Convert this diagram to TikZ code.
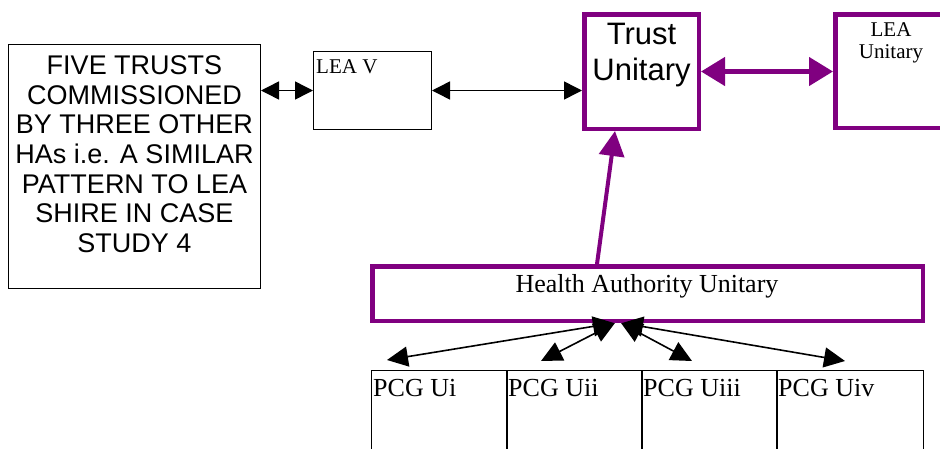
\documentclass[tikz,border=0pt]{standalone}
\usepackage{fontspec}
\setmainfont{Liberation Serif}
\newfontfamily\arialf{Liberation Sans}
\usetikzlibrary{arrows.meta,calc}
\definecolor{hpurple}{RGB}{128,0,128}
\begin{document}
\begin{tikzpicture}[x=1pt,y=-1pt,
  bbox/.style={draw=black, line width=1.4pt, inner sep=0pt, anchor=north west},
  pbox/.style={draw=hpurple, line width=4.5pt, inner sep=0pt, anchor=north west},
  txt/.style={inner sep=0pt},
  blk/.style={draw=black, line width=1.5pt, {Triangle[length=18pt,width=18pt]}-{Triangle[length=18pt,width=18pt]}},
  blkp/.style={draw=black, line width=1.6pt, {Triangle[length=21pt,width=20pt]}-{Triangle[length=21pt,width=20pt]}},
  pur/.style={draw=hpurple, line width=4.5pt, {Triangle[length=24pt,width=28pt]}-{Triangle[length=24pt,width=28pt]}},
  purone/.style={draw=hpurple, line width=4pt, -{Triangle[length=25pt,width=25pt]}}
]
\clip (0,0) rectangle (940,448);
% boxes
\node[bbox, minimum width=251.6pt, minimum height=243.6pt] (five) at (8,44) {};
\node[bbox, minimum width=117.6pt, minimum height=77.6pt] (lea5) at (313,51) {};
\node[pbox, minimum width=114.5pt, minimum height=114.5pt] (trust) at (582,12) {};
\node[pbox, minimum width=112.5pt, minimum height=113.5pt] (leau) at (833,12) {};
\node[pbox, minimum width=550.5pt, minimum height=54.5pt] (ha) at (370,264) {};
\node[bbox, minimum width=135.6pt, minimum height=100pt] (pcg1) at (371,370) {};
\node[bbox, minimum width=135.6pt, minimum height=100pt] (pcg2) at (506,370) {};
\node[bbox, minimum width=135.6pt, minimum height=100pt] (pcg3) at (641,370) {};
\node[bbox, minimum width=146.6pt, minimum height=100pt] (pcg4) at (776,370) {};
% texts
\node[txt, font=\arialf\fontsize{27}{29.7}\selectfont, align=center, anchor=north] (fivet) at (134.5,55.3)
  {FIVE TRUSTS\\COMMISSIONED\\BY THREE OTHER\\HAs i.e. A SIMILAR\\PATTERN TO LEA\\SHIRE IN CASE\\STUDY 4};
\node[txt, font=\fontsize{21}{22}\selectfont, anchor=base west] (lea5t) at (316,73) {LEA V};
\node[txt, font=\arialf\fontsize{31}{36}\selectfont, align=center, anchor=north] (trustt) at (641.5,22.8) {Trust\\Unitary};
\node[txt, font=\fontsize{21}{22}\selectfont, align=center, anchor=north] (leaut) at (891,22.1) {LEA\\Unitary};
\node[txt, font=\fontsize{26}{28}\selectfont, anchor=base] (hat) at (647,292) {Health Authority Unitary};
\node[txt, font=\fontsize{26}{28}\selectfont, anchor=base west] (pcg1t) at (373,396) {PCG Ui};
\node[txt, font=\fontsize{26}{28}\selectfont, anchor=base west] (pcg2t) at (508,396) {PCG Uii};
\node[txt, font=\fontsize{26}{28}\selectfont, anchor=base west] (pcg3t) at (643,396) {PCG Uiii};
\node[txt, font=\fontsize{26}{28}\selectfont, anchor=base west] (pcg4t) at (778,396) {PCG Uiv};
% connectors
\draw[blk] (five.east |- lea5.west) -- (lea5.west);
\draw[blk] (lea5.east) -- (lea5.east -| trust.west);
\draw[pur] (trust.east) -- (trust.east -| leau.west);
\draw[purone] ([xshift=-50.5pt]ha.north) -- ([xshift=-26.5pt]trust.south);
\draw[blkp] ([xshift=-33.5pt]ha.south) -- ([xshift=16pt,yshift=10pt]pcg1.north west);
\draw[blkp] ([xshift=-32.5pt]ha.south) -- ([xshift=35pt,yshift=9pt]pcg2.north west);
\draw[blkp] ([xshift=-26.5pt]ha.south) -- ([xshift=51pt,yshift=9pt]pcg3.north west);
\draw[blkp] ([xshift=-25.5pt]ha.south) -- ([xshift=69pt,yshift=9pt]pcg4.north west);
\end{tikzpicture}
\end{document}
